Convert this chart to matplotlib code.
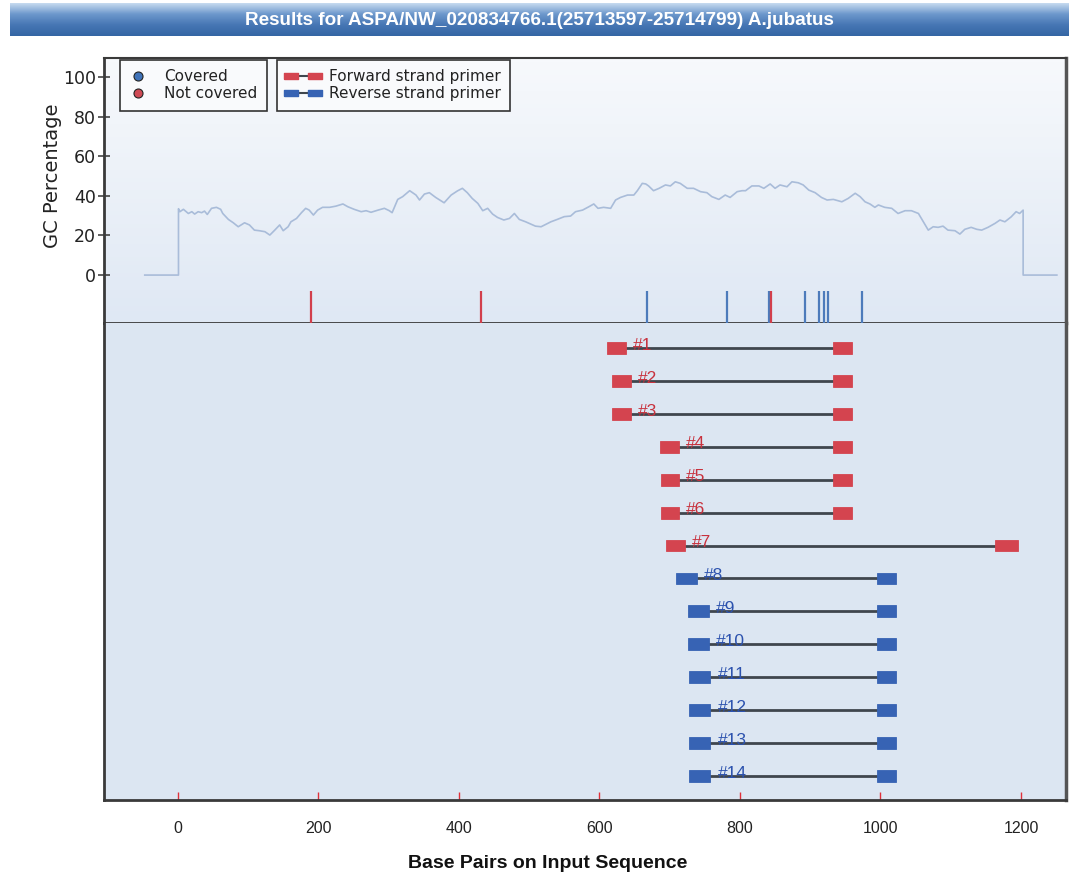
import numpy as np
import matplotlib
matplotlib.use('Agg')
import matplotlib.pyplot as plt
from matplotlib.colors import LinearSegmentedColormap
from matplotlib.lines import Line2D
from matplotlib.path import Path

title = "Results for ASPA/NW_020834766.1(25713597-25714799) A.jubatus"

# GC percentage along the input sequence
gc_pos = [-47, 1, 1, 3, 8, 15, 20, 24, 29, 34, 38, 42, 48, 55, 61, 64, 72, 79, 86, 90,
          95, 102, 109, 116, 124, 131, 138, 145, 150, 157, 161, 169, 176, 182, 187, 193,
          199, 206, 216, 225, 235, 242, 251, 261, 268, 275, 285, 294, 301, 305, 313, 320,
          330, 339, 344, 351, 358, 367, 379, 389, 398, 405, 412, 419, 427, 434, 441, 448,
          455, 464, 472, 479, 486, 495, 502, 509, 517, 522, 531, 540, 550, 559, 566, 576,
          585, 592, 598, 606, 616, 623, 630, 640, 649, 654, 661, 666, 670, 677, 685, 694,
          701, 708, 715, 725, 734, 744, 753, 760, 770, 779, 786, 796, 803, 808, 817, 827,
          834, 843, 850, 857, 867, 874, 883, 890, 898, 907, 916, 924, 933, 945, 954, 964,
          971, 978, 985, 992, 997, 1006, 1016, 1025, 1035, 1044, 1054, 1061, 1068, 1075,
          1082, 1089, 1096, 1106, 1113, 1120, 1129, 1137, 1144, 1153, 1163, 1170, 1177,
          1186, 1193, 1198, 1203, 1203, 1251]
gc_val = [0, 0, 33.5, 32.0, 33.2, 31.1, 32.0, 30.8, 32.0, 31.5, 32.3, 30.6, 33.7, 34.2,
          33.2, 31.1, 28.1, 26.4, 24.4, 25.3, 26.4, 25.3, 22.7, 22.4, 21.9, 20.2, 22.7,
          25.3, 22.4, 24.4, 26.9, 28.6, 31.5, 33.7, 32.8, 30.3, 32.8, 34.2, 34.2, 34.8,
          35.9, 34.5, 33.2, 32.0, 32.5, 31.7, 32.8, 33.7, 32.5, 31.5, 38.2, 39.6, 42.6,
          40.4, 37.9, 40.9, 41.6, 39.2, 36.5, 40.4, 42.5, 43.8, 41.6, 38.7, 36.2, 32.5,
          33.7, 30.8, 29.1, 27.8, 28.6, 31.1, 28.1, 26.9, 25.8, 24.7, 24.4, 25.3, 26.9,
          28.1, 29.5, 29.8, 32.0, 32.8, 34.5, 35.9, 33.7, 34.2, 33.7, 37.9, 39.2, 40.4,
          40.4, 42.6, 46.3, 46.0, 45.0, 42.6, 43.8, 45.5, 45.0, 47.1, 46.3, 43.8, 43.8,
          42.1, 41.6, 39.6, 38.2, 40.4, 39.2, 42.1, 42.6, 42.6, 45.0, 45.0, 43.8, 46.0,
          43.8, 45.5, 44.6, 47.1, 46.6, 45.5, 42.9, 41.6, 39.2, 37.9, 38.2, 37.0, 38.7,
          41.3, 39.6, 37.0, 35.9, 34.2, 35.4, 34.2, 33.7, 31.1, 32.5, 32.5, 31.1, 26.9,
          22.7, 24.4, 24.1, 24.7, 22.7, 22.4, 20.7, 23.1, 24.1, 23.1, 22.7, 24.1, 26.1,
          27.8, 26.9, 29.4, 32.0, 31.1, 32.8, 0, 0]

covered_pos = [668, 782, 842, 893, 913, 920, 925, 974]
not_covered_pos = [190, 431, 844]

primer_ids = ['#1', '#2', '#3', '#4', '#5', '#6', '#7',
              '#8', '#9', '#10', '#11', '#12', '#13', '#14']
primer_strand = ['F', 'F', 'F', 'F', 'F', 'F', 'F',
                 'R', 'R', 'R', 'R', 'R', 'R', 'R']
left_start = [611, 618, 618, 686, 688, 688, 695, 709, 726, 726, 728, 728, 728, 728]
left_end = [638, 645, 645, 713, 713, 713, 722, 739, 756, 756, 758, 758, 758, 758]
right_start = [932, 932, 932, 932, 932, 932, 1163, 995, 995, 995, 995, 995, 995, 995]
right_end = [959, 959, 959, 959, 959, 959, 1195, 1022, 1022, 1022, 1022, 1022, 1022, 1022]

x_ticks = [0, 200, 400, 600, 800, 1000, 1200]
gc_ticks = [0, 20, 40, 60, 80, 100]

RED = '#d4444f'
BLUE = '#3763b4'
RED_TXT = '#c8323e'
BLUE_TXT = '#2c52ae'
LINE = '#3f464e'
FRAME = '#3a3a3a'
ARIAL = ['Liberation Sans', 'DejaVu Sans']

W, H = 1069, 877
fig = plt.figure(figsize=(W / 100, H / 100), dpi=100)


def fbox(x0, y0, x1, y1):
    # pixel box (top-left origin) -> figure fraction rect
    return [x0 / W, 1 - y1 / H, (x1 - x0) / W, (y1 - y0) / H]


# title bar
tax = fig.add_axes(fbox(10, 3, 1069, 36))
tcmap = LinearSegmentedColormap.from_list('tb', ['#c6daef', '#6d98cc', '#4676b4', '#3566a4'])
tax.imshow(np.linspace(0, 1, 64).reshape(-1, 1), cmap=tcmap, aspect='auto',
           extent=[0, 1, 0, 1], origin='upper')
tax.set_xlim(0, 1)
tax.set_ylim(0, 1)
tax.axis('off')
tax.text(0.5, 0.47, title, color='white', fontsize=13.6, fontweight='bold',
         family=ARIAL, ha='center', va='center')

xmin, xmax = -105, 1264

# top panel: GC percentage
ax1 = fig.add_axes(fbox(104, 58, 1066, 323))
gcmap = LinearSegmentedColormap.from_list('bg', ['#f7f9fc', '#dfe8f4'])
ax1.imshow(np.linspace(0, 1, 64).reshape(-1, 1), cmap=gcmap, aspect='auto',
           extent=[0, 1, 0, 1], transform=ax1.transAxes, zorder=0, origin='upper')
ax1.plot(gc_pos, gc_val, color='#a9bcd9', lw=1.2, zorder=2)
ax1.set_xlim(xmin, xmax)
ax1.set_ylim(-24.2, 109.6)
ax1.vlines(covered_pos, -8.2, -24.2, color='#4d7bbb', lw=1.6, zorder=3)
ax1.vlines(not_covered_pos, -8.2, -24.2, color='#d23f4c', lw=1.6, zorder=4)
ax1.set_xticks([])
ax1.set_yticks(gc_ticks)
ax1.tick_params(axis='y', direction='inout', length=8, width=1.2, color='#444444',
                labelsize=12.5, pad=2, labelcolor='#222222')
ax1.set_ylabel('GC Percentage', fontsize=14, color='#222222')
ax1.yaxis.set_label_coords(-0.044, 0.555)
for side in ['left', 'top', 'bottom', 'right']:
    ax1.spines[side].set_color(FRAME)
ax1.spines['left'].set_linewidth(2)
ax1.spines['top'].set_linewidth(1.5)
ax1.spines['bottom'].set_linewidth(2)
ax1.spines['right'].set_linewidth(2.5)
ax1.spines['right'].set_color('#555555')

# legends
leg_kw = dict(loc='upper left', frameon=True, fancybox=False, fontsize=11,
              borderaxespad=0, labelspacing=0.15, borderpad=0.6,
              bbox_transform=fig.transFigure)
h_cov = [Line2D([], [], ls='none', marker='o', ms=6.5, mfc='#3f72b8', mec='#222222', mew=0.8),
         Line2D([], [], ls='none', marker='o', ms=6.5, mfc='#cf4a55', mec='#222222', mew=0.8)]
leg1 = ax1.legend(h_cov, ['Covered', 'Not covered'], bbox_to_anchor=(120 / W, 1 - 60 / H),
                  numpoints=1, handlelength=1.2, handletextpad=1.1, **leg_kw)
rect = Path([(-1, -0.5), (1, -0.5), (1, 0.5), (-1, 0.5), (-1, -0.5)])
h_pr = [Line2D([], [], color=LINE, lw=1.5, marker=rect, ms=10, mfc=RED, mec=RED),
        Line2D([], [], color=LINE, lw=1.5, marker=rect, ms=10, mfc=BLUE, mec=BLUE)]
leg2 = ax1.legend(h_pr, ['Forward strand primer', 'Reverse strand primer'],
                  bbox_to_anchor=(277 / W, 1 - 60 / H), numpoints=2,
                  handlelength=2.2, handletextpad=0.6, **leg_kw)
ax1.add_artist(leg1)
for lg in (leg1, leg2):
    lg.get_frame().set_edgecolor('#333333')
    lg.get_frame().set_linewidth(1.2)
    lg.get_frame().set_facecolor('#f9fafc')
    lg.get_frame().set_alpha(1)
    for t in lg.get_texts():
        t.set_color('#222222')

# bottom panel: primer pairs
ax2 = fig.add_axes(fbox(104, 323, 1066, 800))
ax2.set_facecolor('#dce6f2')
rows = np.arange(1, len(primer_ids) + 1)
for i, r in enumerate(rows):
    col = RED if primer_strand[i] == 'F' else BLUE
    tcol = RED_TXT if primer_strand[i] == 'F' else BLUE_TXT
    ax2.plot([left_end[i], right_start[i]], [r, r], color=LINE, lw=2, zorder=2)
    ax2.barh(r, left_end[i] - left_start[i], left=left_start[i], height=0.36,
             color=col, edgecolor=col, lw=0.6, zorder=3)
    ax2.barh(r, right_end[i] - right_start[i], left=right_start[i], height=0.36,
             color=col, edgecolor=col, lw=0.6, zorder=3)
    ax2.text(left_end[i] + 10, r + 0.05, primer_ids[i], color=tcol, fontsize=12.5,
             family=ARIAL, ha='left', va='baseline', zorder=4)
ax2.set_xlim(xmin, xmax)
ax2.set_ylim(14.73, 0.24)
ax2.set_yticks([])
ax2.set_xticks(x_ticks)
ax2.tick_params(axis='x', direction='in', length=6, width=1, color='#e0303a',
                labelsize=11.5, pad=15, labelcolor='#222222')
for t in ax2.get_xticklabels():
    t.set_family(ARIAL)
ax2.set_xlabel('Base Pairs on Input Sequence', fontsize=14, fontweight='bold',
               family=ARIAL, labelpad=13, color='#111111')
ax2.xaxis.set_label_coords(0.4615, -0.115)
for side in ['left', 'top', 'bottom', 'right']:
    ax2.spines[side].set_color(FRAME)
ax2.spines['left'].set_linewidth(2)
ax2.spines['top'].set_visible(False)
ax2.spines['bottom'].set_linewidth(2)
ax2.spines['right'].set_linewidth(2.5)
ax2.spines['right'].set_color('#555555')

fig.savefig('out.png', dpi=100, facecolor='white')
